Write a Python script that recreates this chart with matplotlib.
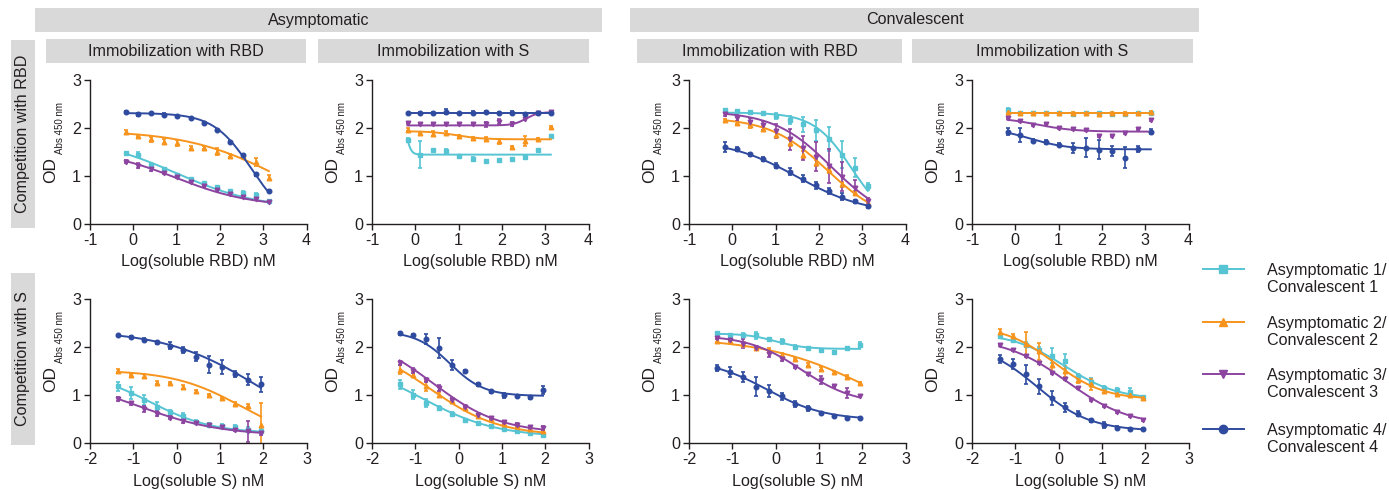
import numpy as np
import matplotlib
matplotlib.use("Agg")
import matplotlib.pyplot as plt
from matplotlib.patches import Rectangle
from matplotlib.lines import Line2D

plt.rcParams["font.family"] = ["Liberation Sans", "DejaVu Sans"]
plt.rcParams["axes.unicode_minus"] = False

# log10 of the competitor concentration (nM), 2-fold dilutions
log_rbd = [-0.18, 0.12, 0.42, 0.72, 1.02, 1.33, 1.63, 1.93, 2.23, 2.53, 2.83, 3.13]
log_s = [-1.36, -1.06, -0.76, -0.46, -0.16, 0.14, 0.44, 0.74, 1.04, 1.35, 1.65, 1.95]

donors = ["Asymptomatic 1/\nConvalescent 1", "Asymptomatic 2/\nConvalescent 2",
          "Asymptomatic 3/\nConvalescent 3", "Asymptomatic 4/\nConvalescent 4"]
colors = ["#56c4d3", "#f7941d", "#8c44a0", "#2f4b9f"]
markers = ["s", "^", "v", "o"]

# mean OD450, SEM and 4PL fit (top, bottom, logIC50, hill) for donors 1-4
# asymptomatic, competition with RBD, immobilized RBD
asym_rbd_rbd_od = [
    [1.47, 1.44, 1.23, 1.14, 1.01, 0.92, 0.84, 0.77, 0.68, 0.63, 0.59, 0.47],
    [1.92, 1.83, 1.76, 1.71, 1.69, 1.58, 1.58, 1.50, 1.42, 1.41, 1.29, 0.96],
    [1.29, 1.21, 1.13, 1.06, 0.98, 0.87, 0.78, 0.70, 0.61, 0.56, 0.51, 0.45],
    [2.34, 2.28, 2.30, 2.27, 2.25, 2.20, 2.11, 1.95, 1.71, 1.43, 1.03, 0.68]]
asym_rbd_rbd_sem = [
    [0.03, 0.05, 0.03, 0.03, 0.03, 0.03, 0.02, 0.02, 0.02, 0.04, 0.04, 0.03],
    [0.04, 0.03, 0.05, 0.05, 0.06, 0.03, 0.03, 0.07, 0.03, 0.03, 0.08, 0.06],
    [0.03, 0.06, 0.03, 0.03, 0.02, 0.02, 0.02, 0.02, 0.02, 0.02, 0.02, 0.02],
    [0.02, 0.03, 0.02, 0.03, 0.02, 0.02, 0.02, 0.02, 0.02, 0.03, 0.03, 0.03]]
asym_rbd_rbd_fit = [(1.8, 0.3, 1.0, 0.45), (1.95, 0.0, 3.4, 0.4),
                    (1.55, 0.35, 1.0, 0.5), (2.31, 0.0, 2.72, 1.0)]

# asymptomatic, competition with RBD, immobilized S
asym_rbd_s_od = [
    [1.75, 1.44, 1.54, 1.51, 1.41, 1.35, 1.30, 1.32, 1.35, 1.38, 1.53, 1.82],
    [1.96, 1.90, 1.88, 1.90, 1.83, 1.78, 1.77, 1.72, 1.60, 1.72, 1.77, 2.01],
    [2.10, 2.07, 2.07, 2.07, 2.07, 2.08, 2.07, 2.13, 2.08, 2.19, 2.30, 2.33],
    [2.30, 2.32, 2.32, 2.34, 2.30, 2.32, 2.33, 2.31, 2.32, 2.29, 2.30, 2.32]]
asym_rbd_s_sem = [
    [0.03, 0.28, 0.02, 0.04, 0.02, 0.03, 0.03, 0.02, 0.02, 0.03, 0.02, 0.04],
    [0.03, 0.02, 0.05, 0.03, 0.02, 0.02, 0.03, 0.05, 0.02, 0.10, 0.02, 0.02],
    [0.03, 0.02, 0.02, 0.02, 0.02, 0.02, 0.05, 0.05, 0.05, 0.02, 0.03, 0.02],
    [0.02, 0.02, 0.02, 0.05, 0.02, 0.04, 0.03, 0.02, 0.04, 0.02, 0.02, 0.03]]
asym_rbd_s_fit = [(2.2, 1.44, -0.2, 8.0), (1.93, 1.76, 0.95, 1.5),
                  (2.05, 2.33, 2.55, 3.0), (2.32, 2.32, 1.0, 1.0)]

# convalescent, competition with RBD, immobilized RBD
conv_rbd_rbd_od = [
    [2.37, 2.35, 2.33, 2.30, 2.25, 2.16, 2.07, 1.95, 1.76, 1.44, 1.17, 0.78],
    [2.16, 2.11, 2.05, 1.98, 1.86, 1.69, 1.44, 1.27, 1.11, 0.82, 0.64, 0.43],
    [2.28, 2.21, 2.13, 2.05, 1.93, 1.76, 1.58, 1.40, 1.20, 0.98, 0.75, 0.48],
    [1.60, 1.56, 1.45, 1.35, 1.21, 1.08, 0.94, 0.80, 0.68, 0.56, 0.46, 0.36]]
conv_rbd_rbd_sem = [
    [0.03, 0.03, 0.03, 0.02, 0.06, 0.08, 0.15, 0.22, 0.25, 0.28, 0.20, 0.07],
    [0.03, 0.03, 0.05, 0.05, 0.05, 0.06, 0.08, 0.06, 0.05, 0.05, 0.04, 0.03],
    [0.04, 0.06, 0.08, 0.10, 0.15, 0.22, 0.25, 0.30, 0.35, 0.30, 0.15, 0.06],
    [0.10, 0.04, 0.03, 0.04, 0.05, 0.07, 0.08, 0.07, 0.07, 0.07, 0.03, 0.03]]
conv_rbd_rbd_fit = [(2.32, 0.0, 2.75, 1.0), (2.22, 0.0, 2.2, 0.65),
                    (2.35, 0.0, 2.3, 0.65), (1.75, 0.2, 1.5, 0.55)]

# convalescent, competition with RBD, immobilized S
conv_rbd_s_od = [
    [2.37, 2.30, 2.31, 2.31, 2.30, 2.28, 2.31, 2.30, 2.29, 2.28, 2.31, 2.30],
    [2.33, 2.31, 2.30, 2.32, 2.31, 2.31, 2.32, 2.28, 2.31, 2.30, 2.30, 2.33],
    [2.20, 2.15, 2.06, 2.08, 1.99, 1.98, 1.96, 1.82, 1.82, 1.89, 1.97, 2.17],
    [1.92, 1.85, 1.73, 1.71, 1.65, 1.58, 1.58, 1.54, 1.51, 1.37, 1.56, 1.92]]
conv_rbd_s_sem = [
    [0.04, 0.02, 0.02, 0.02, 0.02, 0.02, 0.02, 0.02, 0.02, 0.02, 0.02, 0.02],
    [0.06, 0.02, 0.02, 0.02, 0.02, 0.02, 0.02, 0.02, 0.02, 0.03, 0.02, 0.03],
    [0.02, 0.02, 0.02, 0.02, 0.02, 0.02, 0.02, 0.02, 0.02, 0.02, 0.02, 0.02],
    [0.07, 0.14, 0.03, 0.04, 0.03, 0.10, 0.20, 0.20, 0.10, 0.22, 0.06, 0.05]]
conv_rbd_s_fit = [(2.30, 2.30, 1.0, 1.0), (2.31, 2.31, 1.0, 1.0),
                  (2.22, 1.92, 0.5, 1.0), (2.0, 1.55, 0.35, 1.0)]

# asymptomatic, competition with S, immobilized RBD
asym_s_rbd_od = [
    [1.18, 1.04, 0.89, 0.76, 0.64, 0.56, 0.44, 0.38, 0.36, 0.33, 0.28, 0.26],
    [1.51, 1.42, 1.39, 1.26, 1.25, 1.17, 1.08, 1.01, 0.94, 0.82, 0.78, 0.38],
    [0.92, 0.83, 0.71, 0.61, 0.53, 0.45, 0.42, 0.38, 0.33, 0.28, 0.24, 0.21],
    [2.24, 2.20, 2.15, 2.10, 2.03, 1.94, 1.80, 1.63, 1.58, 1.44, 1.32, 1.22]]
asym_s_rbd_sem = [
    [0.10, 0.12, 0.10, 0.10, 0.05, 0.06, 0.03, 0.03, 0.04, 0.04, 0.05, 0.05],
    [0.03, 0.02, 0.04, 0.03, 0.02, 0.04, 0.03, 0.02, 0.02, 0.03, 0.03, 0.45],
    [0.04, 0.03, 0.06, 0.05, 0.03, 0.03, 0.02, 0.02, 0.02, 0.04, 0.22, 0.05],
    [0.02, 0.02, 0.03, 0.03, 0.08, 0.07, 0.10, 0.18, 0.14, 0.06, 0.12, 0.15]]
asym_s_rbd_fit = [(1.5, 0.2, -0.6, 0.6), (1.52, 0.0, 1.5, 0.55),
                  (1.4, 0.15, -0.9, 0.45), (2.35, 0.0, 1.9, 0.4)]

# asymptomatic, competition with S, immobilized S
asym_s_s_od = [
    [1.22, 1.01, 0.83, 0.73, 0.61, 0.47, 0.42, 0.36, 0.29, 0.26, 0.21, 0.17],
    [1.53, 1.42, 1.19, 1.01, 0.87, 0.73, 0.56, 0.49, 0.40, 0.35, 0.29, 0.26],
    [1.67, 1.51, 1.32, 1.15, 0.90, 0.76, 0.59, 0.52, 0.43, 0.38, 0.33, 0.31],
    [2.29, 2.26, 2.17, 1.98, 1.63, 1.49, 1.22, 1.08, 0.99, 0.97, 0.95, 1.10]]
asym_s_s_sem = [
    [0.10, 0.10, 0.08, 0.04, 0.03, 0.03, 0.02, 0.02, 0.02, 0.02, 0.03, 0.03],
    [0.10, 0.05, 0.10, 0.05, 0.04, 0.03, 0.03, 0.02, 0.02, 0.02, 0.02, 0.02],
    [0.04, 0.05, 0.04, 0.06, 0.03, 0.03, 0.02, 0.03, 0.03, 0.03, 0.03, 0.04],
    [0.03, 0.02, 0.10, 0.20, 0.10, 0.04, 0.04, 0.03, 0.05, 0.02, 0.03, 0.08]]
asym_s_s_fit = [(1.75, 0.12, -0.85, 0.5), (2.1, 0.15, -0.65, 0.55),
                (2.3, 0.2, -0.6, 0.55), (2.33, 0.98, -0.2, 1.1)]

# convalescent, competition with S, immobilized RBD
conv_s_rbd_od = [
    [2.29, 2.26, 2.25, 2.24, 2.17, 2.12, 2.00, 1.98, 1.94, 1.89, 1.98, 2.05],
    [2.13, 2.12, 2.07, 1.98, 1.94, 1.84, 1.75, 1.63, 1.55, 1.47, 1.38, 1.25],
    [2.19, 2.15, 2.07, 1.98, 1.85, 1.74, 1.58, 1.44, 1.31, 1.19, 1.04, 0.97],
    [1.56, 1.48, 1.38, 1.17, 1.08, 0.97, 0.81, 0.72, 0.63, 0.56, 0.52, 0.52]]
conv_s_rbd_sem = [
    [0.03, 0.02, 0.05, 0.07, 0.02, 0.05, 0.04, 0.03, 0.02, 0.02, 0.02, 0.05],
    [0.03, 0.03, 0.03, 0.03, 0.03, 0.03, 0.03, 0.03, 0.03, 0.03, 0.03, 0.03],
    [0.03, 0.03, 0.10, 0.04, 0.05, 0.03, 0.02, 0.02, 0.08, 0.02, 0.10, 0.02],
    [0.06, 0.10, 0.10, 0.20, 0.13, 0.08, 0.06, 0.05, 0.02, 0.02, 0.02, 0.02]]
conv_s_rbd_fit = [(2.28, 1.96, 0.0, 1.3), (2.2, 0.0, 2.3, 0.35),
                  (2.25, 0.8, 0.6, 0.7), (1.75, 0.48, -0.2, 0.65)]

# convalescent, competition with S, immobilized S
conv_s_s_od = [
    [2.22, 2.15, 2.05, 1.94, 1.82, 1.70, 1.39, 1.28, 1.15, 1.10, 1.06, 0.95],
    [2.31, 2.22, 2.07, 1.91, 1.63, 1.49, 1.32, 1.22, 1.08, 1.03, 1.01, 0.94],
    [2.05, 1.94, 1.82, 1.67, 1.46, 1.33, 1.15, 0.90, 0.78, 0.64, 0.56, 0.47],
    [1.75, 1.65, 1.43, 1.18, 0.94, 0.74, 0.61, 0.47, 0.37, 0.32, 0.29, 0.29]]
conv_s_s_sem = [
    [0.04, 0.04, 0.05, 0.06, 0.15, 0.15, 0.05, 0.08, 0.03, 0.05, 0.08, 0.02],
    [0.06, 0.06, 0.25, 0.18, 0.16, 0.12, 0.08, 0.12, 0.03, 0.03, 0.03, 0.03],
    [0.02, 0.02, 0.02, 0.02, 0.02, 0.02, 0.02, 0.02, 0.02, 0.02, 0.02, 0.02],
    [0.08, 0.10, 0.20, 0.15, 0.15, 0.10, 0.05, 0.03, 0.06, 0.03, 0.02, 0.02]]
conv_s_s_fit = [(2.3, 0.9, 0.15, 0.7), (2.45, 0.9, -0.1, 0.75),
                (2.2, 0.35, 0.2, 0.6), (2.1, 0.25, -0.5, 0.7)]


def four_pl(x, top, bottom, logic50, hill):
    return bottom + (top - bottom) / (1 + 10 ** ((x - logic50) * hill))


W, H = 1389, 490
fig = plt.figure(figsize=(W / 100, H / 100), dpi=100)
text_c = "#231f20"
box_c = "#d9d9d9"
fs = 11.6


def px_axes(left, top, right, bottom):
    return fig.add_axes([left / W, 1 - bottom / H, (right - left) / W, (bottom - top) / H])


def px_box(left, top, right, bottom, label, rotation=0):
    fig.add_artist(Rectangle((left / W, 1 - bottom / H), (right - left) / W,
                             (bottom - top) / H, transform=fig.transFigure,
                             facecolor=box_c, edgecolor="none"))
    fig.text((left + right) / 2 / W, 1 - (top + bottom) / 2 / H, label,
             ha="center", va="center", rotation=rotation, fontsize=fs, color=text_c)


# group headers and row labels
px_box(35, 8, 602, 32, "Asymptomatic")
px_box(630, 8, 1199, 32, "Convalescent")
px_box(46, 39, 306, 63, "Immobilization with RBD")
px_box(318, 39, 589, 63, "Immobilization with S")
px_box(637, 39, 902, 63, "Immobilization with RBD")
px_box(912, 39, 1193, 63, "Immobilization with S")
px_box(11, 40, 35, 228, "Competition with RBD", rotation=90)
px_box(11, 273, 35, 445, "Competition with S", rotation=90)

col_left = [90, 372, 689, 972]
rows = [
    dict(top=80, bottom=223.5, x=log_rbd, xlim=(-1, 4), od_y=0.376,
         xlabel="Log(soluble RBD) nM",
         panels=[(asym_rbd_rbd_od, asym_rbd_rbd_sem, asym_rbd_rbd_fit),
                 (asym_rbd_s_od, asym_rbd_s_sem, asym_rbd_s_fit),
                 (conv_rbd_rbd_od, conv_rbd_rbd_sem, conv_rbd_rbd_fit),
                 (conv_rbd_s_od, conv_rbd_s_sem, conv_rbd_s_fit)]),
    dict(top=299, bottom=443, x=log_s, xlim=(-2, 3), od_y=0.444,
         xlabel="Log(soluble S) nM",
         panels=[(asym_s_rbd_od, asym_s_rbd_sem, asym_s_rbd_fit),
                 (asym_s_s_od, asym_s_s_sem, asym_s_s_fit),
                 (conv_s_rbd_od, conv_s_rbd_sem, conv_s_rbd_fit),
                 (conv_s_s_od, conv_s_s_sem, conv_s_s_fit)]),
]

for row in rows:
    x = np.array(row["x"])
    xs = np.linspace(x.min(), x.max(), 300)
    for left, (od, sem, fit) in zip(col_left, row["panels"]):
        ax = px_axes(left, row["top"], left + 216.5, row["bottom"])
        for i in range(4):
            ax.errorbar(x, od[i], yerr=sem[i], fmt="none", ecolor=colors[i],
                        elinewidth=1.2, capsize=1.5, capthick=1.2, zorder=2)
            ax.plot(x, od[i], ls="none", marker=markers[i], ms=3.3,
                    color=colors[i], zorder=3)
            ax.plot(xs, four_pl(xs, *fit[i]), color=colors[i], lw=1.4, zorder=3)
        ax.set_xlim(*row["xlim"])
        ax.set_ylim(0, 3)
        ax.set_xticks(np.arange(row["xlim"][0], row["xlim"][1] + 1))
        ax.set_yticks([0, 1, 2, 3])
        for side in ["top", "right"]:
            ax.spines[side].set_visible(False)
        for side in ["left", "bottom"]:
            ax.spines[side].set_linewidth(1.0)
            ax.spines[side].set_color(text_c)
        ax.tick_params(length=4, width=1.0, labelsize=fs, colors=text_c, pad=2.5)
        ax.set_xlabel(row["xlabel"], fontsize=fs, color=text_c, labelpad=5)
        ax.annotate("OD", xy=(0, row["od_y"]), xycoords="axes fraction",
                    xytext=(-39 * 0.72, 0), textcoords="offset points",
                    rotation=90, ha="center", va="center", fontsize=12.5, color=text_c)
        ax.annotate("Abs 450 nm", xy=(0, row["od_y"] + 0.29), xycoords="axes fraction",
                    xytext=(-30 * 0.72, 0), textcoords="offset points",
                    rotation=90, ha="center", va="center", fontsize=7, color=text_c)

# legend
for i, y in enumerate([269, 322, 374, 429]):
    fig.add_artist(Line2D([1203 / W, 1244 / W], [1 - y / H, 1 - y / H],
                          transform=fig.transFigure, color=colors[i], lw=1.4))
    fig.add_artist(Line2D([1223 / W], [1 - y / H], transform=fig.transFigure,
                          color=colors[i], marker=markers[i], ms=6, ls="none"))
    fig.text(1267 / W, 1 - (y + 10) / H, donors[i], ha="left", va="center",
             fontsize=fs, color=text_c, linespacing=1.15)

fig.savefig("out.png", dpi=100)
